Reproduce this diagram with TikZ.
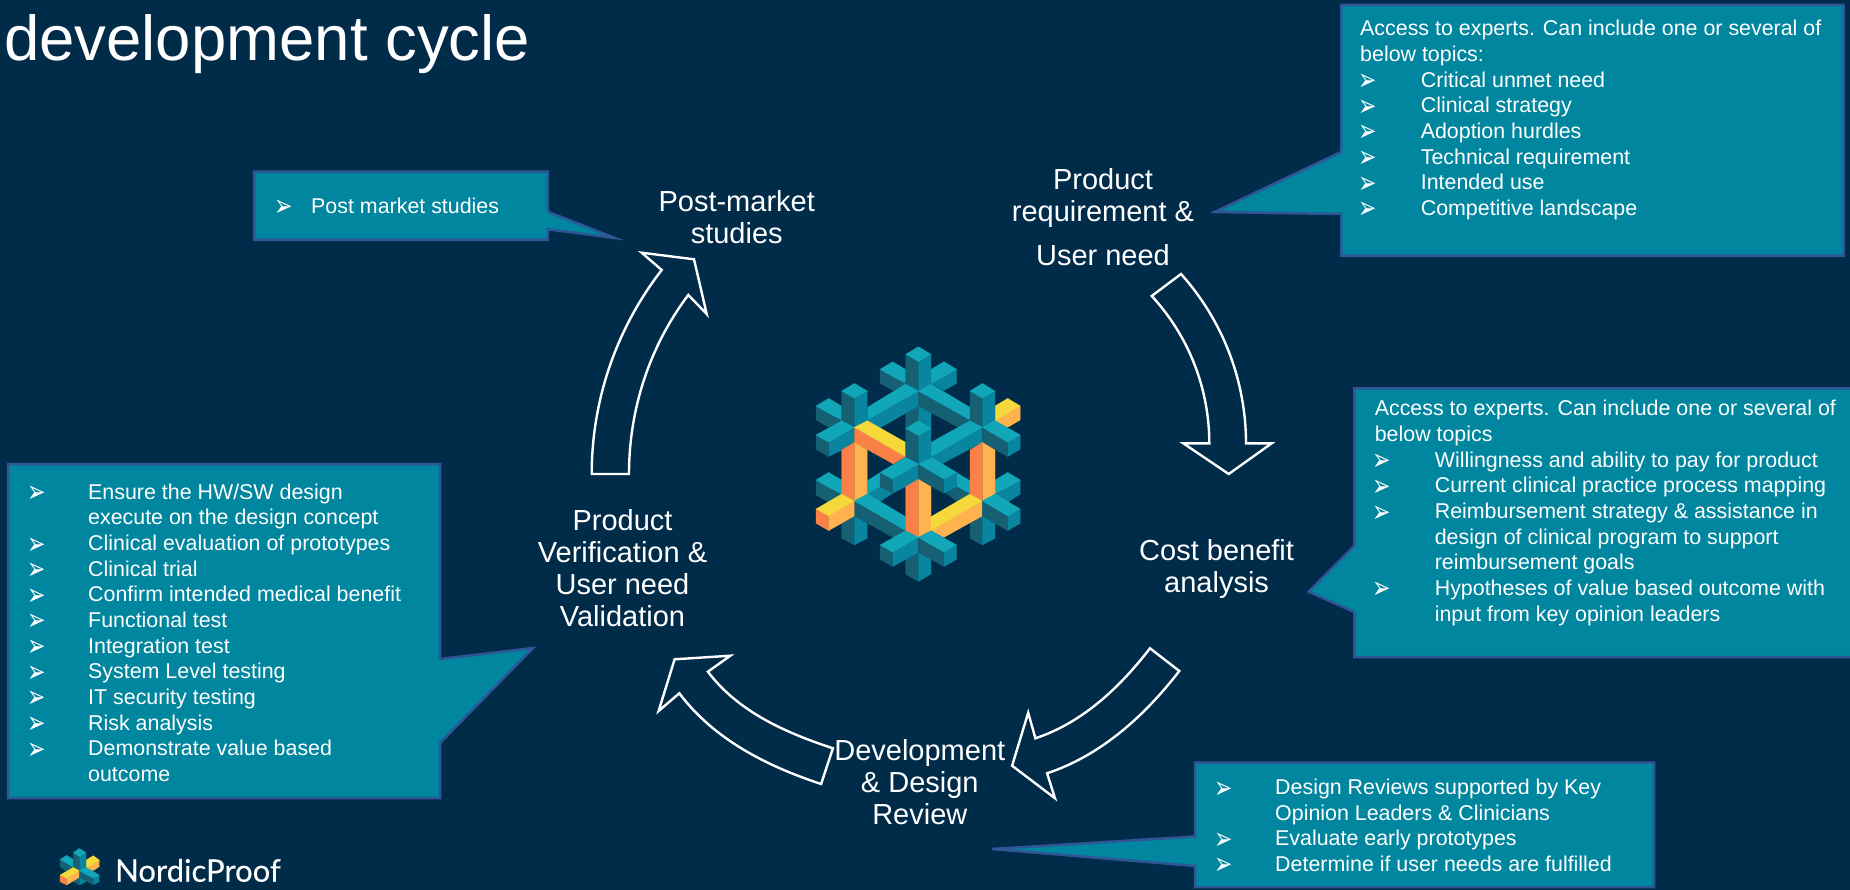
\documentclass[tikz,border=0pt]{standalone}
\usepackage{fontspec}
\setmainfont{Liberation Sans}
\newfontfamily\dej{DejaVu Sans}
\newfontfamily\lato[FakeBold=0.4]{Lato}
\definecolor{bgc}{HTML}{002B49}
\definecolor{boxc}{HTML}{00869E}
\definecolor{edgec}{HTML}{2F5597}
\definecolor{tTop}{HTML}{12A7B8}
\definecolor{tRight}{HTML}{0A859F}
\definecolor{tLeft}{HTML}{156073}
\definecolor{oLeft}{HTML}{F98148}
\definecolor{oRight}{HTML}{FFB24D}
\definecolor{yTop}{HTML}{F5D93A}
\newcommand{\pg}[2]{\filldraw[fill=#1,draw=#1,line width=0.15pt] plot coordinates {#2} -- cycle;}
\newcommand{\FL}{\rule{0pt}{20pt}}
\newcommand{\MF}{\rule{0pt}{24pt}}
\newcommand{\BL}[1]{\makebox[#1pt][l]{\kern-2pt\raisebox{-3.5pt}[0pt][0pt]{\scalebox{1.1}[1.55]{\dej\fontsize{20}{20}\selectfont ➢}}}}
\tikzset{
  callout/.style={fill=boxc,draw=edgec,line width=2.5pt,line join=miter},
  bigarrow/.style={draw=white,line width=2.4pt,line join=miter,miter limit=10},
  small/.style={text=white,inner sep=0pt,anchor=north west,align=left,font=\fontsize{21.4}{25.65}\selectfont},
  big/.style={text=white,inner sep=0pt,anchor=north,align=center,font=\fontsize{29}{32}\selectfont},
}
\begin{document}
\begin{tikzpicture}[x=1pt,y=-1pt]
\useasboundingbox (0,0) rectangle (1850,890);
\fill[bgc] (0,0) rectangle (1850,890);

% title
\node[text=white,inner sep=0pt,anchor=base west,font=\fontsize{63.5}{70}\selectfont] (title) at (4,61) {development cycle};

% callouts
\draw[callout] (1341,5) -- (1843.5,5) -- (1843.5,256) -- (1341,256) -- (1341,214) -- (1214.5,212) -- (1341,152) -- cycle;
\draw[callout] (1354.3,388.3) -- (1854,388.3) -- (1854,657) -- (1354.3,657) -- (1354.3,612) -- (1308.6,591.7) -- (1354.3,545.7) -- cycle;
\draw[callout] (8,464) -- (440,464) -- (440,659) -- (533,648) -- (440,743) -- (440,798) -- (8,798) -- cycle;
\draw[callout] (1195,762.7) -- (1654,762.7) -- (1654,887) -- (1195,887) -- (1195,866) -- (992,849) -- (1195,836.5) -- cycle;
\draw[callout] (254,171.7) -- (547.8,171.7) -- (547.8,211.7) -- (615,238) -- (547.8,229.3) -- (547.8,240) -- (254,240) -- cycle;

% callout texts
\node[small] (t1) at (1360,15.7) {\FL Access to experts. Can include one or several of\\
below topics:\\
\BL{60.6}Critical unmet need\\
\BL{60.6}Clinical strategy\\
\BL{60.6}Adoption hurdles\\
\BL{60.6}Technical requirement\\
\BL{60.6}Intended use\\
\BL{60.6}Competitive landscape};
\node[small] (t2) at (1374.6,395.7) {\FL Access to experts. Can include one or several of\\
below topics\\
\BL{60}Willingness and ability to pay for product\\
\BL{60}Current clinical practice process mapping\\
\BL{60}Reimbursement strategy \& assistance in\\
\makebox[60pt]{}design of clinical program to support\\
\makebox[60pt]{}reimbursement goals\\
\BL{60}Hypotheses of value based outcome with\\
\makebox[60pt]{}input from key opinion leaders};
\node[small] (t3) at (29,479) {\FL\BL{59}Ensure the HW/SW design\\
\makebox[59pt]{}execute on the design concept\\
\BL{59}Clinical evaluation of prototypes\\
\BL{59}Clinical trial\\
\BL{59}Confirm intended medical benefit\\
\BL{59}Functional test\\
\BL{59}Integration test\\
\BL{59}System Level testing\\
\BL{59}IT security testing\\
\BL{59}Risk analysis\\
\BL{59}Demonstrate value based\\
\makebox[59pt]{}outcome};
\node[small] (t4) at (1216,774.3) {\FL\BL{59}Design Reviews supported by Key\\
\makebox[59pt]{}Opinion Leaders \& Clinicians\\
\BL{59}Evaluate early prototypes\\
\BL{59}Determine if user needs are fulfilled};
\node[small] (t5) at (276,193.3) {\FL\BL{35}Post market studies};

% main labels
\node[big] (post) at (736.7,187.7) {\MF Post-market\\studies};
\node[big] (req) at (1103,165.3) {\MF Product\\requirement \&\\[12pt]User need};
\node[big] (cost) at (1216.6,536.5) {\MF Cost benefit\\analysis};
\node[big] (dev) at (919.8,736) {\MF Development\\\& Design\\Review};
\node[big] (ver) at (622.5,506) {\MF Product\\Verification \&\\User need\\Validation};

% block arrows
\draw[bigarrow] (591.7,474) -- (629,474) .. controls (629,409.5) and (649.3,346.6) .. (688.3,295)
  -- (706.7,314) -- (694,259.3) -- (641.7,252.7) -- (661.7,270)
  .. controls (616.4,328.4) and (591.7,400) .. (591.7,474) -- cycle;
\draw[bigarrow] (1151.7,296) .. controls (1188.8,336.1) and (1209.3,388.7) .. (1209.3,443.3)
  -- (1183.3,443.3) -- (1228.7,474) -- (1271.7,443.3) -- (1246,443.3)
  .. controls (1246,380.8) and (1222.7,320.4) .. (1181,274) -- cycle;
\draw[bigarrow] (1150,648.3) .. controls (1120.1,686.9) and (1083.1,722.4) .. (1035.4,738.3)
  -- (1028.2,712.7) -- (1012.1,765.7) -- (1055,798.3) -- (1047.1,773.3)
  .. controls (1101.7,755.1) and (1144.9,715.4) .. (1179.3,671) -- cycle;
\draw[bigarrow] (832.9,748.3) .. controls (786.6,733) and (738.7,712.4) .. (707.9,671.7)
  -- (730.4,655.7) -- (674.6,659.3) -- (658.6,711) -- (679.3,693.3)
  .. controls (714.4,739.9) and (767.5,766.3) .. (821.1,784) -- cycle;

% central logo
\begin{scope}[shift={(750,320)},x=0.33333pt,y=-0.33333pt]
% rear column
\pg{tLeft}{(467,240) (505,215) (505,340) (467,330)}
\pg{tRight}{(505,215) (543,240) (543,330) (505,340)}
% top arms
\pg{tLeft}{(390,148) (428,170) (467,190) (467,195) (430,212) (390,190)}
\pg{tTop}{(390,148) (428,125) (467,148) (467,190) (428,170)}
\pg{tRight}{(582,170) (620,148) (620,190) (582,212) (543,190)}
\pg{tTop}{(543,148) (582,125) (620,148) (582,170) (543,190)}
% top column
\pg{tLeft}{(467,103) (505,125) (505,213) (467,192)}
\pg{tRight}{(505,125) (543,103) (543,192) (505,213)}
\pg{tTop}{(505,80) (543,103) (505,125) (467,103)}
% upper diagonals
\pg{tRight}{(352,300) (505,213) (505,258) (388,325) (352,305)}
\pg{tTop}{(467,192) (505,213) (352,300) (352,262)}
\pg{tLeft}{(505,213) (660,300) (625,322) (505,258)}
\pg{tTop}{(505,213) (543,192) (660,262) (660,300)}
% left upper arm and column
\pg{tLeft}{(198,258) (236,280) (275,300) (275,305) (236,322) (198,300)}
\pg{tTop}{(198,258) (236,235) (275,258) (275,300) (236,280)}
\pg{tLeft}{(275,213) (313,235) (313,322) (275,302)}
\pg{tRight}{(313,235) (352,213) (352,302) (313,322)}
\pg{tTop}{(313,190) (352,213) (313,235) (275,213)}
\pg{tRight}{(236,367) (313,322) (313,367) (275,390) (236,410)}
\pg{tLeft}{(198,345) (236,367) (236,410) (198,388)}
\pg{tTop}{(198,345) (275,302) (313,322) (236,367)}
% right upper
\pg{oRight}{(773,280) (811,258) (811,300) (773,322) (735,302)}
\pg{yTop}{(735,258) (773,235) (811,258) (773,280) (735,302)}
\pg{tLeft}{(660,213) (697,235) (697,322) (660,302)}
\pg{tRight}{(697,235) (735,213) (735,302) (697,322)}
\pg{tTop}{(697,190) (735,213) (697,235) (660,213)}
\pg{tRight}{(543,410) (697,322) (697,367) (570,435) (543,415)}
\pg{tTop}{(543,367) (660,302) (697,322) (543,410)}
\pg{tLeft}{(697,322) (773,367) (773,410) (697,367)}
\pg{tRight}{(773,367) (811,345) (811,388) (773,410)}
\pg{tTop}{(697,322) (735,302) (811,345) (773,367)}
% orange upper bar
\pg{oLeft}{(313,322) (467,410) (430,432) (313,367)}
\pg{yTop}{(352,302) (467,367) (467,410) (313,322)}
% centre column
\pg{tLeft}{(467,325) (505,347) (505,432) (467,412)}
\pg{tRight}{(505,347) (543,325) (543,410) (505,432)}
\pg{tTop}{(505,302) (543,325) (505,347) (467,325)}
% back bars mid
\pg{tRight}{(352,522) (430,478) (428,520) (390,545) (355,525)}
\pg{tTop}{(352,482) (390,458) (390,500) (352,522)}
\pg{tTop}{(620,458) (660,482) (660,522) (620,500)}
\pg{tLeft}{(582,515) (620,500) (660,522) (622,545)}
% lower outer arms
\pg{tLeft}{(198,480) (236,502) (275,522) (275,527) (236,547) (198,525)}
\pg{tTop}{(198,480) (236,457) (275,480) (275,522) (236,502)}
\pg{tRight}{(773,502) (811,480) (811,522) (773,547) (735,525)}
\pg{tTop}{(735,480) (773,457) (811,480) (773,502) (735,522)}
% orange columns
\pg{oLeft}{(275,390) (313,367) (313,543) (275,522)}
\pg{oRight}{(313,367) (352,390) (352,522) (313,543)}
\pg{oLeft}{(660,390) (697,367) (697,543) (660,522)}
\pg{oRight}{(697,367) (735,390) (735,522) (697,543)}
% centre star
\pg{tRight}{(428,478) (505,432) (505,478) (467,500) (428,520)}
\pg{tLeft}{(390,457) (428,478) (428,520) (390,500)}
\pg{tTop}{(390,457) (467,412) (505,432) (428,478)}
\pg{tLeft}{(505,432) (582,478) (582,520) (505,478)}
\pg{tRight}{(582,478) (620,457) (620,500) (582,520)}
\pg{tTop}{(505,432) (543,412) (620,457) (582,478)}
% lower columns
\pg{tLeft}{(275,610) (313,588) (313,675) (275,655)}
\pg{tRight}{(313,588) (352,610) (352,655) (313,675)}
\pg{tLeft}{(660,610) (697,588) (697,675) (660,655)}
\pg{tRight}{(697,588) (735,610) (735,655) (697,675)}
% lower bars
\pg{tLeft}{(313,543) (467,632) (430,653) (313,588)}
\pg{tTop}{(352,522) (467,590) (467,632) (313,543)}
\pg{oLeft}{(467,500) (505,478) (505,652) (467,632)}
\pg{oRight}{(505,478) (543,500) (543,632) (505,652)}
\pg{oRight}{(543,632) (697,543) (697,588) (582,652)}
\pg{yTop}{(543,590) (660,522) (697,543) (543,632)}
\pg{tLeft}{(697,543) (773,588) (773,632) (697,588)}
\pg{tRight}{(773,588) (811,567) (811,610) (773,632)}
\pg{tTop}{(697,543) (735,522) (811,567) (773,588)}
% left yellow bar
\pg{oLeft}{(198,567) (236,588) (236,632) (198,610)}
\pg{oRight}{(236,588) (313,543) (313,588) (236,632)}
\pg{yTop}{(198,567) (275,522) (313,543) (236,588)}
% bottom
\pg{tLeft}{(467,675) (505,697) (505,785) (467,762)}
\pg{tRight}{(505,697) (543,675) (543,762) (505,785)}
\pg{tRight}{(428,697) (505,652) (505,697) (428,740)}
\pg{tLeft}{(390,675) (428,697) (428,740) (390,718)}
\pg{tTop}{(390,675) (467,632) (505,652) (428,697)}
\pg{tLeft}{(505,652) (582,697) (582,740) (505,697)}
\pg{tRight}{(582,697) (620,675) (620,718) (582,740)}
\pg{tTop}{(505,652) (543,632) (620,675) (582,697)}
\end{scope}

% small logo
\begin{scope}[shift={(50,840)},x=0.33333pt,y=-0.33333pt]
\pg{tLeft}{(30,58) (50,70) (70,82) (50,95) (30,80)}
\pg{tTop}{(30,58) (50,46) (70,58) (70,82) (50,70)}
\pg{oRight}{(130,72) (148,60) (148,80) (130,92) (108,85)}
\pg{yTop}{(108,60) (130,47) (148,60) (130,72) (108,85)}
\pg{tLeft}{(70,38) (88,50) (88,135) (70,125)}
\pg{tRight}{(88,50) (108,38) (108,125) (88,135)}
\pg{tTop}{(88,25) (108,38) (88,50) (70,38)}
\pg{oLeft}{(30,105) (50,115) (50,135) (30,125)}
\pg{oRight}{(50,115) (88,92) (88,112) (50,135)}
\pg{yTop}{(30,105) (70,82) (88,92) (50,115)}
\pg{tLeft}{(88,92) (130,115) (130,135) (88,112)}
\pg{tRight}{(130,115) (148,105) (148,125) (130,135)}
\pg{tTop}{(88,92) (108,82) (148,105) (130,115)}
\end{scope}

\node[text=white,inner sep=0pt,anchor=base west,font=\lato\fontsize{31}{34}\selectfont] (brand) at (115,881.7) {NordicProof};
\end{tikzpicture}
\end{document}
